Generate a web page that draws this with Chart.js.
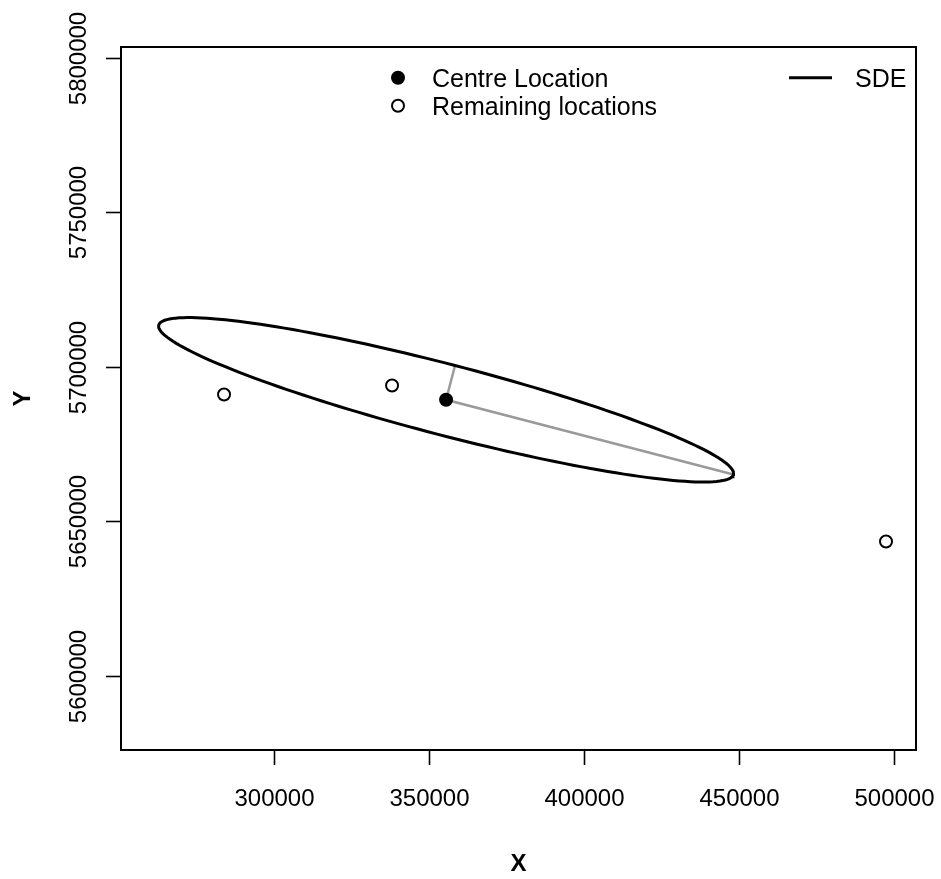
<!DOCTYPE html>
<html>
<head>
<meta charset="utf-8">
<script src="https://cdn.jsdelivr.net/npm/chart.js@4"></script>
<style>
  html, body { margin: 0; padding: 0; background: #fff; }
  canvas { display: block; }
</style>
</head>
<body>
<canvas id="sdeChart" width="941" height="879"></canvas>
<script>
// Locations
const centreX = [355420];
const centreY = [5689280];
const remainingX = [283760, 337990, 497420];
const remainingY = [5691000, 5693910, 5643390];

// Standard deviational ellipse: semi-axes and rotation (degrees)
const sdeSigmaMajor = 95840;
const sdeSigmaMinor = 11480;
const sdeThetaDeg = -14.62;

// Axis ticks and ranges
const xTicks = [300000, 350000, 400000, 450000, 500000];
const yTicks = [5600000, 5650000, 5700000, 5750000, 5800000];
const xRange = [250500, 507100];
const yRange = [5575900, 5803500];

const FONT = '"Liberation Sans", Arial, Helvetica, sans-serif';

const toPoints = (xs, ys) => xs.map((x, i) => ({ x: x, y: ys[i] }));

// ellipse outline and its two axes, built from the SDE parameters
const th = sdeThetaDeg * Math.PI / 180;
const u = [Math.cos(th), Math.sin(th)];
const v = [-Math.sin(th), Math.cos(th)];
const cx = centreX[0], cy = centreY[0];
const ellipse = [];
for (let d = 0; d <= 360; d += 2) {
    const t = d * Math.PI / 180;
    const a = sdeSigmaMajor * Math.cos(t), b = sdeSigmaMinor * Math.sin(t);
    ellipse.push({ x: cx + a * u[0] + b * v[0], y: cy + a * u[1] + b * v[1] });
}
const sdeAxes = [
    { x: cx + sdeSigmaMajor * u[0], y: cy + sdeSigmaMajor * u[1] },
    { x: cx, y: cy },
    { x: cx + sdeSigmaMinor * v[0], y: cy + sdeSigmaMinor * v[1] }
];

// Box, axes, tick labels, titles and legend in base-graphics style
const frame = {
    id: 'frame',
    afterDraw(chart) {
        const { ctx, chartArea: ca, scales } = chart;
        const xs = scales.x, ys = scales.y;
        ctx.save();
        ctx.strokeStyle = '#000';
        ctx.fillStyle = '#000';
        ctx.lineWidth = 2;
        ctx.strokeRect(ca.left, ca.top, ca.right - ca.left, ca.bottom - ca.top);

        ctx.lineWidth = 1.6;
        ctx.font = '24px ' + FONT;
        ctx.textAlign = 'center';
        ctx.textBaseline = 'alphabetic';
        xTicks.forEach(t => {
            const px = Math.round(xs.getPixelForValue(t)) + 0.5;
            ctx.beginPath();
            ctx.moveTo(px, ca.bottom);
            ctx.lineTo(px, ca.bottom + 15);
            ctx.stroke();
            ctx.fillText(String(t), px, 806);
        });
        yTicks.forEach(t => {
            const py = Math.round(ys.getPixelForValue(t)) + 0.5;
            ctx.beginPath();
            ctx.moveTo(ca.left, py);
            ctx.lineTo(ca.left - 15, py);
            ctx.stroke();
            ctx.save();
            ctx.translate(85.5, py);
            ctx.rotate(-Math.PI / 2);
            ctx.fillText(String(t), 0, 0);
            ctx.restore();
        });

        ctx.font = 'bold 24px ' + FONT;
        ctx.fillText('X', (ca.left + ca.right) / 2, 871);
        ctx.save();
        ctx.translate(30, (ca.top + ca.bottom) / 2);
        ctx.rotate(-Math.PI / 2);
        ctx.fillText('Y', 0, 0);
        ctx.restore();

        // legend
        ctx.font = '25px ' + FONT;
        ctx.textAlign = 'left';
        ctx.beginPath();
        ctx.arc(398, 77.7, 7, 0, Math.PI * 2);
        ctx.fill();
        ctx.lineWidth = 2;
        ctx.beginPath();
        ctx.arc(398, 105.7, 6, 0, Math.PI * 2);
        ctx.stroke();
        ctx.fillText('Centre Location', 432, 86.7);
        ctx.fillText('Remaining locations', 432, 114.7);
        ctx.lineWidth = 3;
        ctx.beginPath();
        ctx.moveTo(789, 77.7);
        ctx.lineTo(832, 77.7);
        ctx.stroke();
        ctx.fillText('SDE', 855, 86.7);
        ctx.restore();
    }
};

new Chart(document.getElementById('sdeChart'), {
    type: 'scatter',
    data: {
        datasets: [
            {
                label: 'Centre Location',
                data: toPoints(centreX, centreY),
                pointRadius: 7,
                pointBackgroundColor: '#000',
                pointBorderColor: '#000',
                pointBorderWidth: 0
            },
            {
                label: 'Remaining locations',
                data: toPoints(remainingX, remainingY),
                pointRadius: 6,
                pointBackgroundColor: 'rgba(0,0,0,0)',
                pointBorderColor: '#000',
                pointBorderWidth: 2
            },
            {
                label: 'SDE',
                type: 'line',
                data: ellipse,
                borderColor: '#000',
                borderWidth: 3,
                pointRadius: 0,
                tension: 0,
                fill: false
            },
            {
                label: 'SDE axes',
                type: 'line',
                data: sdeAxes,
                borderColor: '#9a9a9a',
                borderWidth: 2.5,
                pointRadius: 0,
                tension: 0,
                fill: false
            }
        ]
    },
    options: {
        responsive: false,
        animation: false,
        devicePixelRatio: 1,
        layout: { padding: { top: 47, right: 25, left: 0, bottom: 0 } },
        plugins: {
            legend: { display: false },
            tooltip: { enabled: false }
        },
        scales: {
            x: {
                type: 'linear',
                min: xRange[0],
                max: xRange[1],
                grid: { display: false },
                border: { display: false },
                ticks: { display: false },
                afterFit(scale) { scale.height = 129; }
            },
            y: {
                type: 'linear',
                min: yRange[0],
                max: yRange[1],
                grid: { display: false },
                border: { display: false },
                ticks: { display: false },
                afterFit(scale) { scale.width = 121; }
            }
        }
    },
    plugins: [frame]
});
</script>
</body>
</html>
